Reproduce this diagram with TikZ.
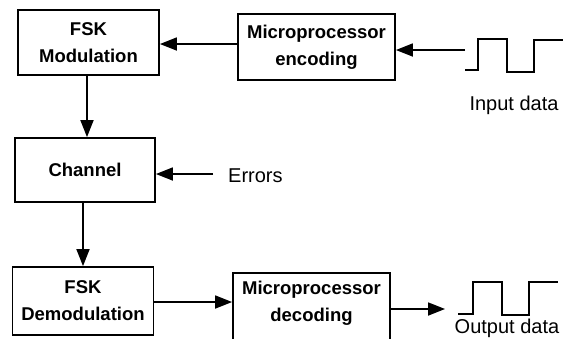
\documentclass[tikz,border=0pt]{standalone}
\usepackage{fontspec}
\setmainfont{Liberation Sans}
\usetikzlibrary{arrows.meta}
\begin{document}
\begin{tikzpicture}[x=1pt,y=-1pt,
  box/.style={draw, line width=1.8pt, rectangle, inner sep=0pt},
  boxtext/.style={align=center, font=\fontsize{18.5}{27}\selectfont\bfseries},
  lbl/.style={font=\fontsize{20}{24}\selectfont, inner sep=0pt},
  flow/.style={line width=1.8pt, -{Triangle[length=17pt,width=13pt]}},
  wave/.style={line width=1.5pt}]
\useasboundingbox (0,0) rectangle (566,338);

% blocks
\node[box, boxtext, minimum width=141pt, minimum height=65pt] (mod) at (88.5,42.5) {FSK\\Modulation};
\node[box, boxtext, minimum width=157pt, minimum height=66pt] (enc) at (316.5,47) {Microprocessor\\encoding};
\node[box, boxtext, minimum width=140pt, minimum height=64pt] (chan) at (85,170) {Channel};
\node[box, boxtext, minimum width=141pt, minimum height=68pt] (demod) at (83,301) {FSK\\Demodulation};
\node[box, minimum width=157pt, minimum height=80pt, anchor=north] (dec) at (311.5,272) {};
\node[boxtext] (dectext) at (311.5,303) {Microprocessor\\decoding};

% input square wave
\draw[wave] (465,70) -- (478,70) -- (478,39) -- (507,39) -- (507,72) -- (534,72) -- (534,40) -- (563,40);
\node[lbl, anchor=base] (inlbl) at (514,110) {Input data};
\coordinate (inwave) at (465,50);

% output square wave
\draw[wave] (458,314) -- (473,314) -- (473,282) -- (502,282) -- (502,315) -- (529,315) -- (529,282) -- (558,282);
\node[lbl, anchor=base] (outlbl) at (507,333) {Output data};
\coordinate (outwave) at (445,309);

% error source
\node[lbl, anchor=base west] (err) at (228,182) {Errors};
\coordinate (errsrc) at (213,174);

% connectors
\draw[flow] (inwave) -- (inwave -| enc.east);
\draw[flow] (enc.west |- 0,44) -- (mod.east |- 0,44);
\draw[flow] (mod.south -| 87,0) -- (chan.north -| 87,0);
\draw[flow] (errsrc) -- (errsrc -| chan.east);
\draw[flow] (chan.south -| 83,0) -- (demod.north -| 83,0);
\draw[flow] (demod.east |- 0,302) -- (dec.west |- 0,302);
\draw[flow] (dec.east |- outwave) -- (outwave);
\end{tikzpicture}
\end{document}
